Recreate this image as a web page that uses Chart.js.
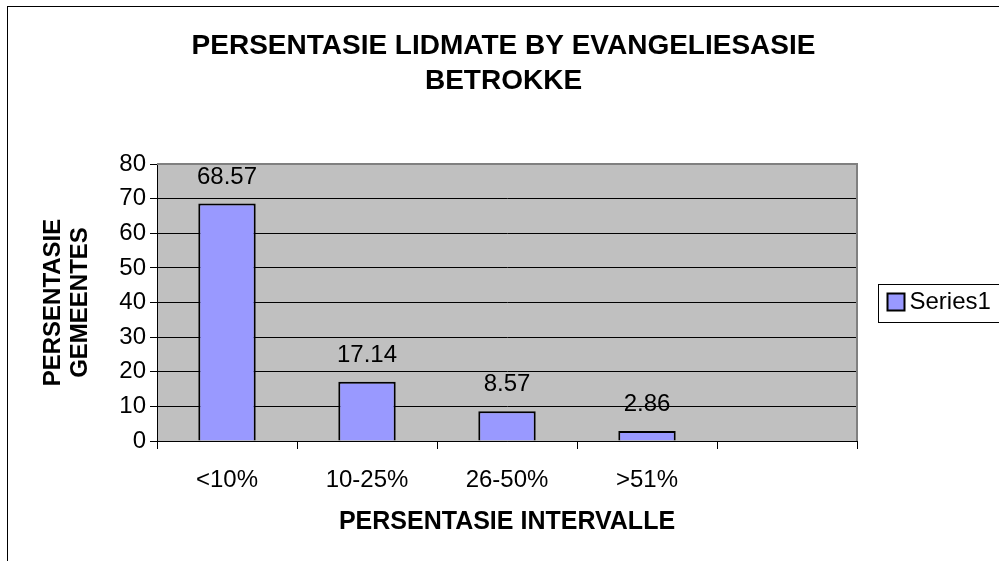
<!DOCTYPE html>
<html>
<head>
<meta charset="utf-8">
<script src="https://cdn.jsdelivr.net/npm/chart.js@4.4.1/dist/chart.umd.min.js"></script>
<style>
  html, body { margin: 0; padding: 0; background: #fff; }
  #wrap { width: 999px; height: 561px; }
</style>
</head>
<body>
<div id="wrap"><canvas id="grafico" width="999" height="561"></canvas></div>
<script>
// --- dados do gráfico ---
const categorias = ['<10%', '10-25%', '26-50%', '>51%', ''];
const valores = [68.57, 17.14, 8.57, 2.86, null];
const nomeSerie = 'Series1';
const tituloGrafico = ['PERSENTASIE LIDMATE BY EVANGELIESASIE', 'BETROKKE'];
const tituloEixoY = ['PERSENTASIE', 'GEMEENTES'];
const tituloEixoX = 'PERSENTASIE INTERVALLE';
const marcasY = [0, 10, 20, 30, 40, 50, 60, 70, 80];

const fonte = "'Liberation Sans', Arial, sans-serif";
const corBarra = '#9999FF';
const corFundoPlot = '#C0C0C0';

// moldura externa, fundo da área de plotagem, rótulos e legenda
const estiloExcel = {
    id: 'estiloExcel',
    beforeDraw(chart) {
        const { ctx, chartArea: a } = chart;
        ctx.save();
        ctx.fillStyle = '#fff';
        ctx.fillRect(0, 0, chart.width, chart.height);
        ctx.fillStyle = corFundoPlot;
        ctx.fillRect(a.left, a.top, a.right - a.left, a.bottom - a.top);
        ctx.strokeStyle = '#000';
        ctx.lineWidth = 1;
        ctx.strokeRect(7.5, 6.5, chart.width + 20, chart.height + 20);
        ctx.restore();
    },
    beforeDatasetsDraw(chart) {
        const { ctx, chartArea: a } = chart;
        ctx.save();
        ctx.strokeStyle = '#808080';
        ctx.lineWidth = 2;
        ctx.beginPath();
        ctx.moveTo(a.left, a.top);
        ctx.lineTo(a.right, a.top);
        ctx.lineTo(a.right, a.bottom);
        ctx.stroke();
        ctx.restore();
    },
    afterDatasetsDraw(chart) {
        const { ctx } = chart;
        const meta = chart.getDatasetMeta(0);
        ctx.save();
        ctx.font = '24px ' + fonte;
        ctx.fillStyle = '#000';
        ctx.textAlign = 'center';
        ctx.textBaseline = 'middle';
        meta.data.forEach((barra, i) => {
            const v = chart.data.datasets[0].data[i];
            if (v === null) return;
            ctx.fillText(v.toFixed(2), barra.x, barra.y - 26.5);
        });
        ctx.restore();
    },
    afterDraw(chart) {
        const { ctx, chartArea: a } = chart;
        const ds = chart.data.datasets[0];
        const x = a.right + 21.5;
        const meio = (a.top + a.bottom) / 2;
        ctx.save();
        ctx.strokeStyle = '#000';
        ctx.lineWidth = 1;
        ctx.fillStyle = '#fff';
        ctx.fillRect(x, meio - 19, 200, 38);
        ctx.strokeRect(x, Math.round(meio - 19) + 0.5, 200, 38);
        ctx.fillStyle = ds.backgroundColor;
        ctx.fillRect(x + 9, meio - 9, 17, 17);
        ctx.lineWidth = 2;
        ctx.strokeRect(x + 9, meio - 9, 17, 17);
        ctx.fillStyle = '#000';
        ctx.font = '24px ' + fonte;
        ctx.textBaseline = 'middle';
        ctx.textAlign = 'left';
        ctx.fillText(ds.label, x + 31, meio);
        ctx.restore();
    }
};

const ctx = document.getElementById('grafico').getContext('2d');
new Chart(ctx, {
    type: 'bar',
    data: {
        labels: categorias,
        datasets: [{
            label: nomeSerie,
            data: valores,
            backgroundColor: corBarra,
            borderColor: '#000',
            borderWidth: 2,
            barPercentage: 0.41,
            categoryPercentage: 1
        }]
    },
    options: {
        responsive: false,
        animation: false,
        devicePixelRatio: 1,
        layout: { padding: { left: 8, right: 0, top: 0, bottom: 0 } },
        plugins: {
            legend: { display: false },
            tooltip: { enabled: false },
            title: {
                display: true,
                text: tituloGrafico,
                color: '#000',
                font: { family: fonte, size: 28, weight: 'bold', lineHeight: '35px' },
                padding: { top: 28.5, bottom: 65.5 }
            }
        },
        scales: {
            x: {
                offset: true,
                grid: {
                    offset: true, drawOnChartArea: false, drawTicks: true,
                    tickLength: 8, color: '#000', lineWidth: 1
                },
                border: { display: true, color: '#000', width: 1 },
                ticks: { color: '#000', font: { family: fonte, size: 24 }, padding: 17, maxRotation: 0 },
                title: {
                    display: true, text: tituloEixoX, color: '#000',
                    font: { family: fonte, size: 25, weight: 'bold', lineHeight: 1.2 },
                    padding: { top: 0, bottom: 24 }
                },
                afterFit(escala) { escala.height = 120; }
            },
            y: {
                min: 0,
                max: 80,
                afterBuildTicks(escala) { escala.ticks = marcasY.map(v => ({ value: v })); },
                grid: { color: '#000', lineWidth: 1, drawTicks: true, tickLength: 7 },
                border: { display: true, color: '#000', width: 1 },
                ticks: { color: '#000', font: { family: fonte, size: 24 }, padding: 4 },
                title: {
                    display: true, text: tituloEixoY, color: '#000',
                    font: { family: fonte, size: 24, weight: 'bold', lineHeight: '27px' },
                    padding: { top: 32, bottom: 0 }
                },
                afterFit(escala) { escala.width = 149; }
            },
            espacoLegenda: {
                type: 'linear',
                position: 'right',
                display: true,
                grid: { display: false, drawTicks: false },
                border: { display: false },
                ticks: { display: false },
                afterFit(escala) { escala.width = 142; }
            }
        }
    },
    plugins: [estiloExcel]
});
</script>
</body>
</html>
